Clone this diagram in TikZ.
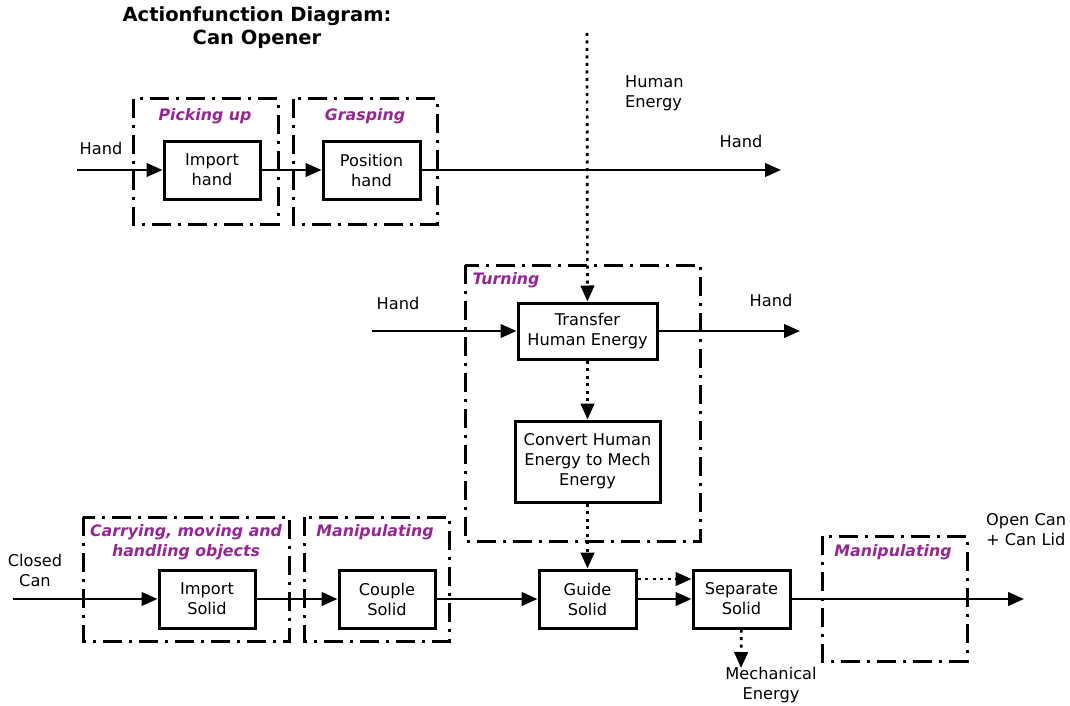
\documentclass[tikz,border=0pt]{standalone}
\usepackage{fontspec}
\setmainfont{DejaVu Sans}
\usetikzlibrary{arrows.meta}
\definecolor{grppurple}{RGB}{150,38,150}
\tikzset{
  fbox/.style={draw, line width=3pt, minimum width=97pt, minimum height=58pt, inner sep=0pt, align=center, font=\fontsize{16.2}{20}\selectfont},
  grp/.style={line width=3pt, dash pattern=on 19pt off 7pt on 3pt off 7pt},
  glabel/.style={text=grppurple, font=\fontsize{15.8}{20}\selectfont\bfseries\itshape, align=center, inner sep=0pt},
  lbl/.style={font=\fontsize{16.2}{20}\selectfont, align=center, inner sep=0pt},
  flow/.style={line width=2.7pt, -{Triangle[length=16pt,width=13.5pt]}},
  dflow/.style={flow, dash pattern=on 3pt off 4.5pt},
}
\begin{document}
\begin{tikzpicture}[x=1pt,y=-1pt]
        \useasboundingbox (0,0) rectangle (1070,706);
        % title
        \node[font=\fontsize{19.5}{23}\selectfont\bfseries, align=center, inner sep=0pt] (title) at (257,28) {Actionfunction Diagram:\\Can Opener};
        % groups
        \draw[grp] (133,99) rectangle (278,224);\draw[grp] (293,99) rectangle (437,224);
        \draw[grp] (465,265) rectangle (700,541);
        \draw[grp] (83,517) rectangle (289,641);\draw[grp] (304,517) rectangle (449,641);\draw[grp] (822,536) rectangle (967,661);
        \node[glabel] (gpick) at (205,116) {Picking up};\node[glabel] (ggrasp) at (365,116) {Grasping};
        \node[glabel] (gturn) at (506,280) {Turning};
        \node[glabel] (gcarry) at (186,542) {Carrying, moving and\\handling objects};
        \node[glabel] (gmanip) at (375,532) {Manipulating};\node[glabel] (gmanipb) at (893,552) {Manipulating};
        % boxes
        \node[fbox, minimum width=96pt] (imphand) at (212,170) {Import\\hand};
        \node[fbox] (poshand) at (371.5,170) {Position\\hand};
        \node[fbox, minimum width=139pt, minimum height=56pt] (transfer) at (587.5,331) {Transfer\\Human Energy};
        \node[fbox, minimum width=145pt, minimum height=81pt] (convert) at (587.5,461.5) {Convert Human\\Energy to Mech\\Energy};
        \node[fbox, minimum width=96pt] (impsolid) at (207,599) {Import\\Solid};
        \node[fbox, minimum width=96pt] (couple) at (387,599) {Couple\\Solid};
        \node[fbox] (guide) at (587.5,599) {Guide\\Solid};
        \node[fbox] (separate) at (741.5,599) {Separate\\Solid};
        % lecter
        \node[lbl] (lhandin) at (101,148) {Hand};\node[lbl] (lhandout) at (741,141) {Hand};
        \node[lbl, align=left, anchor=west] (lhuman) at (625,93) {Human\\Energy};
        \node[lbl] (lhandin2) at (398,303) {Hand};\node[lbl] (lhandout2) at (771,300) {Hand};
        \node[lbl] (lclosed) at (35,570) {Closed\\Can};
        \node[lbl, align=left, anchor=west] (lopen) at (986,530) {Open Can\\+ Can Lid};
        \node[lbl] (lmech) at (771,685) {Mechanical\\Energy};
        % ends
        \coordinate (handin) at (77,170);\coordinate (handout) at (781,170);
        \coordinate (humanin) at (587,33);
        \coordinate (handin2) at (372,331);\coordinate (handout2) at (800,331);
        \coordinate (canin) at (13,599);\coordinate (canout) at (1024,599);
        \coordinate (mechout) at (741,668);
        % line
        \draw[flow] (handin) -- (imphand);\draw[flow] (imphand) -- (poshand);\draw[flow] (poshand) -- (handout);
        \draw[dflow] (humanin) -- (transfer);
        \draw[flow] (handin2) -- (transfer);\draw[flow] (transfer) -- (handout2);
        \draw[dflow] (transfer) -- (convert);\draw[dflow] (convert) -- (guide);
        \draw[flow] (canin) -- (impsolid);\draw[flow] (impsolid) -- (couple);\draw[flow] (couple) -- (guide);
        \draw[dflow] ([yshift=20pt]guide.east) -- ([yshift=20pt]separate.west);
        \draw[flow] (guide) -- (separate);\draw[flow] (separate) -- (canout);
        \draw[dflow] (separate) -- (mechout);
    \end{tikzpicture}
\end{document}
